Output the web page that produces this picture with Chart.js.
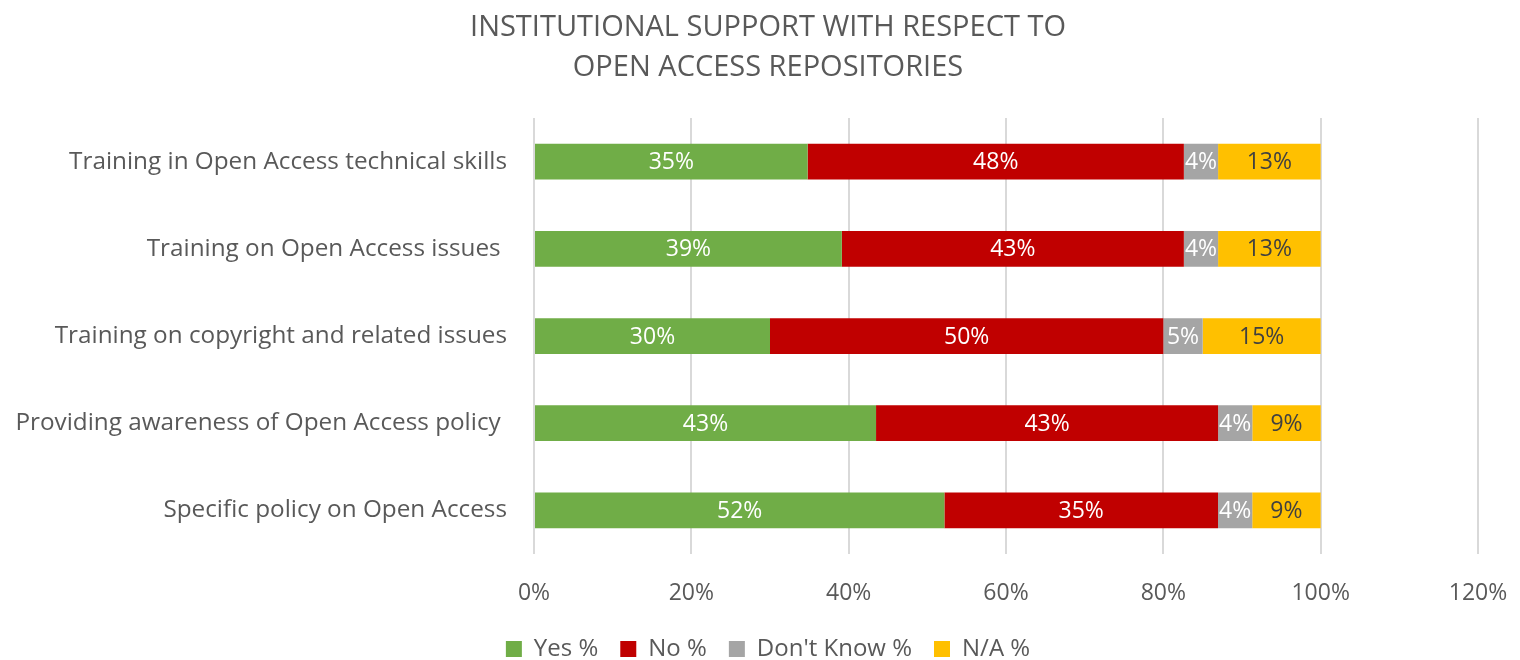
<!DOCTYPE html>
<html>
<head>
<meta charset="utf-8">
<script src="https://cdn.jsdelivr.net/npm/chart.js@4"></script>
<style>
  html, body { margin: 0; padding: 0; background: #fff; }
  #wrap { width: 1520px; height: 660px; }
</style>
</head>
<body>
<div id="wrap"><canvas id="chart"></canvas></div>
<script>
const categories = [
  'Training in Open Access technical skills',
  'Training on Open Access issues ',
  'Training on copyright and related issues',
  'Providing awareness of Open Access policy ',
  'Specific policy on Open Access'
];
const yesPct = [34.78, 39.13, 30.0, 43.48, 52.17];
const noPct = [47.83, 43.48, 50.0, 43.48, 34.78];
const dontKnowPct = [4.35, 4.35, 5.0, 4.35, 4.35];
const naPct = [13.04, 13.04, 15.0, 8.70, 8.70];
const xTicks = [0, 20, 40, 60, 80, 100, 120];

const FONT = '"Open Sans", sans-serif';

// draws the rounded value in the middle of every bar segment
const barLabels = {
  id: 'barLabels',
  afterDatasetsDraw(chart) {
    const ctx = chart.ctx;
    ctx.save();
    ctx.font = '23px ' + FONT;
    ctx.textAlign = 'center';
    ctx.textBaseline = 'middle';
    chart.data.datasets.forEach((ds, i) => {
      chart.getDatasetMeta(i).data.forEach((bar, j) => {
        const { x, y, base } = bar.getProps(['x', 'y', 'base'], true);
        ctx.fillStyle = ds.labelColor;
        ctx.fillText(Math.round(ds.data[j]) + '%', (x + base) / 2, y + 1);
      });
    });
    ctx.restore();
  }
};

new Chart(document.getElementById('chart'), {
  type: 'bar',
  data: {
    labels: categories,
    datasets: [
      { label: 'Yes %', data: yesPct, backgroundColor: '#70ad47', labelColor: '#ffffff' },
      { label: 'No %', data: noPct, backgroundColor: '#c00000', labelColor: '#ffffff' },
      { label: "Don't Know %", data: dontKnowPct, backgroundColor: '#a5a5a5', labelColor: '#ffffff' },
      { label: 'N/A %', data: naPct, backgroundColor: '#ffc000', labelColor: '#404040' }
    ]
  },
  options: {
    indexAxis: 'y',
    responsive: true,
    maintainAspectRatio: false,
    animation: false,
    layout: { padding: { left: 16, right: 0, top: 0, bottom: -11 } },
    datasets: { bar: { barPercentage: 0.41, categoryPercentage: 1.0 } },
    plugins: {
      title: {
        display: true,
        text: ['INSTITUTIONAL SUPPORT WITH RESPECT TO', 'OPEN ACCESS REPOSITORIES'],
        color: '#595959',
        font: { family: FONT, size: 29, weight: 'normal', lineHeight: 1.38 },
        padding: { top: 8, bottom: 30 }
      },
      legend: {
        position: 'bottom',
        labels: {
          color: '#595959',
          font: { family: FONT, size: 24 },
          boxWidth: 16,
          boxHeight: 16,
          padding: 22
        }
      },
      tooltip: { enabled: false }
    },
    scales: {
      x: {
        stacked: true,
        min: 0,
        max: 120,
        afterBuildTicks: (axis) => { axis.ticks = xTicks.map(v => ({ value: v })); },
        afterFit: (axis) => {
          axis.height = 61;
          axis.paddingLeft = 0;
          axis.paddingRight = 42;
        },
        ticks: { color: '#595959', font: { family: FONT, size: 23 }, padding: 26, callback: v => v + '%' },
        grid: { color: '#d9d9d9', lineWidth: 2, drawTicks: false },
        border: { display: false }
      },
      y: {
        stacked: true,
        afterFit: (axis) => { axis.width = 518; },
        ticks: { color: '#595959', font: { family: FONT, size: 24.3 }, padding: 27 },
        grid: { display: false, drawTicks: false },
        border: { display: false }
      }
    }
  },
  plugins: [barLabels]
});
</script>
</body>
</html>
